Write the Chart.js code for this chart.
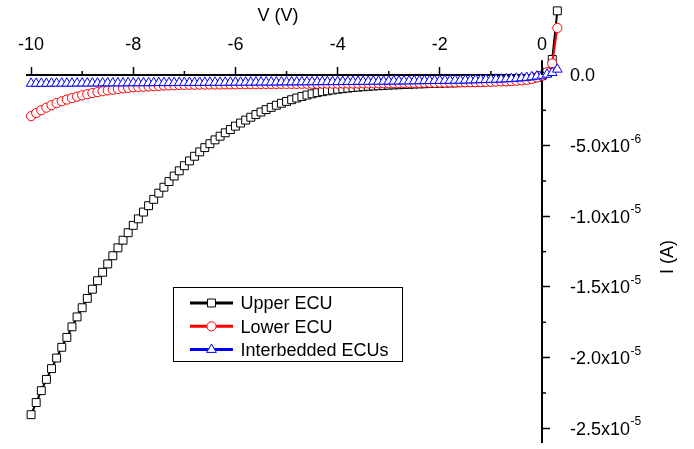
<!DOCTYPE html>
<html>
<head>
<meta charset="utf-8">
<script src="https://cdn.jsdelivr.net/npm/chart.js@4/dist/chart.umd.min.js"></script>
<style>
html,body{margin:0;padding:0;background:#fff;}
#wrap{width:694px;height:449px;}
</style>
</head>
<body>
<div id="wrap"><canvas id="c" width="694" height="449"></canvas></div>
<script>
// ---------- data (V in volts, I in microamps) ----------
const voltage = [-10,-9.9,-9.8,-9.7,-9.6,-9.5,-9.4,-9.3,-9.2,-9.1,
  -9,-8.9,-8.8,-8.7,-8.6,-8.5,-8.4,-8.3,-8.2,-8.1,
  -8,-7.9,-7.8,-7.7,-7.6,-7.5,-7.4,-7.3,-7.2,-7.1,
  -7,-6.9,-6.8,-6.7,-6.6,-6.5,-6.4,-6.3,-6.2,-6.1,
  -6,-5.9,-5.8,-5.7,-5.6,-5.5,-5.4,-5.3,-5.2,-5.1,
  -5,-4.9,-4.8,-4.7,-4.6,-4.5,-4.4,-4.3,-4.2,-4.1,
  -4,-3.9,-3.8,-3.7,-3.6,-3.5,-3.4,-3.3,-3.2,-3.1,
  -3,-2.9,-2.8,-2.7,-2.6,-2.5,-2.4,-2.3,-2.2,-2.1,
  -2,-1.9,-1.8,-1.7,-1.6,-1.5,-1.4,-1.3,-1.2,-1.1,
  -1,-0.9,-0.8,-0.7,-0.6,-0.5,-0.4,-0.3,-0.2,-0.1,
  0,0.1,0.2,0.3];

const upperECU_uA = [-24.04,-23.18,-22.34,-21.54,-20.78,-20.03,-19.27,-18.57,-17.82,-17.12,
  -16.47,-15.81,-15.16,-14.56,-13.96,-13.37,-12.79,-12.23,-11.69,-11.16,
  -10.64,-10.18,-9.70,-9.25,-8.80,-8.36,-7.94,-7.54,-7.15,-6.78,
  -6.42,-6.08,-5.75,-5.44,-5.14,-4.86,-4.59,-4.33,-4.09,-3.86,
  -3.62,-3.40,-3.19,-2.99,-2.80,-2.62,-2.45,-2.29,-2.14,-2.00,
  -1.87,-1.75,-1.63,-1.52,-1.42,-1.33,-1.25,-1.18,-1.12,-1.06,
  -1.01,-0.97,-0.93,-0.89,-0.86,-0.83,-0.80,-0.78,-0.76,-0.74,
  -0.72,-0.70,-0.69,-0.67,-0.66,-0.64,-0.63,-0.62,-0.60,-0.59,
  -0.58,-0.57,-0.56,-0.55,-0.54,-0.53,-0.52,-0.51,-0.50,-0.48,
  -0.47,-0.46,-0.44,-0.42,-0.40,-0.37,-0.34,-0.30,-0.24,-0.16,
  -0.05,0.15,1.10,4.54];

const lowerECU_uA = [-2.91,-2.69,-2.49,-2.31,-2.14,-1.99,-1.86,-1.74,-1.63,-1.53,
  -1.44,-1.36,-1.28,-1.21,-1.15,-1.09,-1.04,-0.99,-0.95,-0.91,
  -0.87,-0.85,-0.83,-0.81,-0.79,-0.77,-0.75,-0.73,-0.72,-0.71,
  -0.70,-0.69,-0.69,-0.68,-0.68,-0.67,-0.67,-0.67,-0.66,-0.66,
  -0.66,-0.65,-0.65,-0.65,-0.65,-0.64,-0.64,-0.64,-0.64,-0.63,
  -0.63,-0.63,-0.63,-0.62,-0.62,-0.62,-0.62,-0.61,-0.61,-0.61,
  -0.61,-0.60,-0.60,-0.60,-0.60,-0.59,-0.59,-0.59,-0.58,-0.58,
  -0.58,-0.57,-0.57,-0.57,-0.56,-0.56,-0.56,-0.55,-0.55,-0.55,
  -0.54,-0.54,-0.53,-0.53,-0.52,-0.52,-0.51,-0.51,-0.50,-0.49,
  -0.48,-0.47,-0.46,-0.45,-0.43,-0.41,-0.38,-0.34,-0.28,-0.18,
  -0.04,0.20,0.82,3.33];

const interbeddedECUs_uA = [-0.60,-0.60,-0.60,-0.60,-0.59,-0.59,-0.59,-0.59,-0.59,-0.58,
  -0.58,-0.58,-0.58,-0.58,-0.57,-0.57,-0.57,-0.57,-0.57,-0.56,
  -0.56,-0.56,-0.56,-0.56,-0.55,-0.55,-0.55,-0.55,-0.55,-0.54,
  -0.54,-0.54,-0.54,-0.54,-0.53,-0.53,-0.53,-0.53,-0.53,-0.52,
  -0.52,-0.52,-0.52,-0.52,-0.51,-0.51,-0.51,-0.51,-0.51,-0.50,
  -0.50,-0.50,-0.50,-0.49,-0.49,-0.49,-0.49,-0.48,-0.48,-0.48,
  -0.48,-0.47,-0.47,-0.47,-0.46,-0.46,-0.46,-0.45,-0.45,-0.45,
  -0.44,-0.44,-0.44,-0.43,-0.43,-0.42,-0.42,-0.41,-0.41,-0.40,
  -0.40,-0.39,-0.39,-0.38,-0.38,-0.37,-0.36,-0.35,-0.34,-0.33,
  -0.32,-0.31,-0.30,-0.28,-0.26,-0.24,-0.21,-0.18,-0.14,-0.09,
  -0.03,0.05,0.16,0.40];

const seriesLabels = ['Upper ECU', 'Lower ECU', 'Interbedded ECUs'];
const seriesColors = ['#000000', '#ff0000', '#0000ff'];
const seriesMarkers = ['rect', 'circle', 'triangle'];

const xRange = [-10.08, 0];
const xTickValues = [-10, -8, -6, -4, -2, 0];
const xTickLabels = ['-10', '-8', '-6', '-4', '-2', '0'];
const xMinorTickValues = [-9, -7, -5, -3, -1];

const yRange = [-2.6e-5, 0];
const yAxisLineTop = 1.05e-6;
const yTickValues = [0, -5e-6, -1e-5, -1.5e-5, -2e-5, -2.5e-5];
const yTickMantissas = ['0.0', '-5.0x10', '-1.0x10', '-1.5x10', '-2.0x10', '-2.5x10'];
const yTickExponents = ['', '-6', '-5', '-5', '-5', '-5'];
const yMinorTickValues = [-2.5e-6, -7.5e-6, -1.25e-5, -1.75e-5, -2.25e-5];

const xTitle = 'V (V)';
const yTitle = 'I (A)';

// ---------- chart ----------
const FONT = '"Liberation Sans", Arial, Helvetica, sans-serif';
Chart.defaults.font.family = FONT;
Chart.defaults.color = '#000';

const MARKER_R = { rect: 5.6, circle: 4.6, triangle: 5.6 };

function mkData(arr) {
  return voltage.map((v, i) => ({ x: v, y: arr[i] * 1e-6 }));
}

const seriesArrays = [upperECU_uA, lowerECU_uA, interbeddedECUs_uA];
const datasets = seriesArrays.map((arr, i) => ({
  label: seriesLabels[i],
  data: mkData(arr),
  borderColor: seriesColors[i],
  backgroundColor: '#ffffff',
  borderWidth: 2,
  pointStyle: seriesMarkers[i],
  pointRadius: MARKER_R[seriesMarkers[i]],
  pointBorderWidth: 1,
  pointBorderColor: seriesColors[i],
  pointBackgroundColor: '#ffffff',
  tension: 0,
  clip: false,
  order: 3 - i
}));

function drawMarker(ctx, style, x, y, r, color) {
  ctx.save();
  ctx.beginPath();
  if (style === 'rect') {
    const s = Math.SQRT1_2 * r;
    ctx.rect(x - s, y - s, 2 * s, 2 * s);
  } else if (style === 'circle') {
    ctx.arc(x, y, r, 0, Math.PI * 2);
  } else {
    let rad = 0;
    ctx.moveTo(x + Math.sin(rad) * r, y - Math.cos(rad) * r);
    rad += Math.PI * 2 / 3;
    ctx.lineTo(x + Math.sin(rad) * r, y - Math.cos(rad) * r);
    rad += Math.PI * 2 / 3;
    ctx.lineTo(x + Math.sin(rad) * r, y - Math.cos(rad) * r);
    ctx.closePath();
  }
  ctx.fillStyle = '#fff';
  ctx.fill();
  ctx.lineWidth = 1;
  ctx.strokeStyle = color;
  ctx.stroke();
  ctx.restore();
}

const overlay = {
  id: 'overlay',
  // let markers that sit just outside the axes (V > 0, I > 0) be drawn too
  beforeDatasetsDraw(chart) {
    this._savedArea = chart.chartArea;
    chart.chartArea = { left: 0, top: 0, right: chart.width, bottom: chart.height,
                        width: chart.width, height: chart.height };
  },
  afterDatasetsDraw(chart) {
    if (this._savedArea) chart.chartArea = this._savedArea;
  },
  afterDraw(chart) {
    const ctx = chart.ctx;
    const xs = chart.scales.x, ys = chart.scales.y;
    const area = chart.chartArea;
    ctx.save();
    ctx.strokeStyle = '#000';
    // y-axis line continues a little above the V axis
    ctx.lineWidth = 2;
    ctx.beginPath();
    ctx.moveTo(area.right, ys.getPixelForValue(0));
    ctx.lineTo(area.right, ys.getPixelForValue(yAxisLineTop));
    ctx.stroke();
    // minor ticks
    ctx.lineWidth = 1.5;
    xMinorTickValues.forEach(v => {
      const px = xs.getPixelForValue(v);
      ctx.beginPath();
      ctx.moveTo(px, area.top);
      ctx.lineTo(px, area.top - 4);
      ctx.stroke();
    });
    yMinorTickValues.forEach(v => {
      const py = ys.getPixelForValue(v);
      ctx.beginPath();
      ctx.moveTo(area.right, py);
      ctx.lineTo(area.right + 4, py);
      ctx.stroke();
    });
    // y tick labels with superscript exponents
    ctx.fillStyle = '#000';
    ctx.textAlign = 'left';
    ctx.textBaseline = 'alphabetic';
    yTickValues.forEach((v, i) => {
      const py = ys.getPixelForValue(v);
      const x0 = area.right + 28;
      const base = py + 6.4;
      ctx.font = '18px ' + FONT;
      ctx.fillText(yTickMantissas[i], x0, base);
      const w = ctx.measureText(yTickMantissas[i]).width;
      if (yTickExponents[i]) {
        ctx.font = '12px ' + FONT;
        ctx.fillText(yTickExponents[i], x0 + w + 0.5, base - 9.5);
      }
    });
    // axis titles
    ctx.font = '18px ' + FONT;
    ctx.textAlign = 'center';
    ctx.fillText(xTitle, 278, 21);
    ctx.save();
    ctx.translate(673, 257);
    ctx.rotate(-Math.PI / 2);
    ctx.fillText(yTitle, 0, 0);
    ctx.restore();
    // legend
    const lx = 173, ly = 287, lw = 229, lh = 74;
    ctx.fillStyle = '#fff';
    ctx.fillRect(lx, ly, lw, lh);
    ctx.lineWidth = 1;
    ctx.strokeStyle = '#000';
    ctx.strokeRect(lx + 0.5, ly + 0.5, lw, lh);
    const rows = [303, 326.3, 349.6];
    seriesLabels.forEach((lab, i) => {
      const y = rows[i];
      ctx.strokeStyle = seriesColors[i];
      ctx.lineWidth = 3;
      ctx.beginPath();
      ctx.moveTo(190, y);
      ctx.lineTo(233, y);
      ctx.stroke();
      drawMarker(ctx, seriesMarkers[i], 211.5, y, MARKER_R[seriesMarkers[i]], seriesColors[i]);
      ctx.fillStyle = '#000';
      ctx.font = '18px ' + FONT;
      ctx.textAlign = 'left';
      ctx.textBaseline = 'alphabetic';
      ctx.fillText(lab, 240.5, y + 6.3);
    });
    ctx.restore();
  }
};

function setRange(s, r) { s.min = r[0]; s.max = r[1]; }

new Chart(document.getElementById('c'), {
  type: 'line',
  data: { datasets },
  options: {
    responsive: false,
    animation: false,
    events: [],
    layout: { padding: { left: 27, right: 0, top: 0, bottom: 2 } },
    plugins: { legend: { display: false }, tooltip: { enabled: false }, title: { display: false } },
    scales: {
      x: {
        type: 'linear',
        position: 'top',
        bounds: 'data',
        afterDataLimits: s => setRange(s, xRange),
        afterBuildTicks: s => { s.ticks = xTickValues.map(v => ({ value: v })); setRange(s, xRange); },
        afterFit: s => { s.height = 75; },
        ticks: {
          callback: v => { const k = xTickValues.indexOf(v); return k >= 0 ? xTickLabels[k] : ''; },
          font: { size: 18, family: FONT },
          color: '#000',
          padding: 11,
          maxRotation: 0,
          autoSkip: false
        },
        grid: { drawOnChartArea: false, drawTicks: true, tickLength: 8, tickWidth: 1.5, tickColor: '#000' },
        border: { display: true, color: '#000', width: 2 },
        title: { display: false }
      },
      y: {
        type: 'linear',
        position: 'right',
        bounds: 'data',
        afterDataLimits: s => setRange(s, yRange),
        afterBuildTicks: s => { s.ticks = yTickValues.map(v => ({ value: v })); setRange(s, yRange); },
        afterFit: s => { s.width = 152; },
        ticks: { display: false },
        grid: { drawOnChartArea: false, drawTicks: true, tickLength: 8, tickWidth: 1.5, tickColor: '#000' },
        border: { display: true, color: '#000', width: 2 },
        title: { display: false }
      }
    }
  },
  plugins: [overlay]
});
</script>
</body>
</html>
